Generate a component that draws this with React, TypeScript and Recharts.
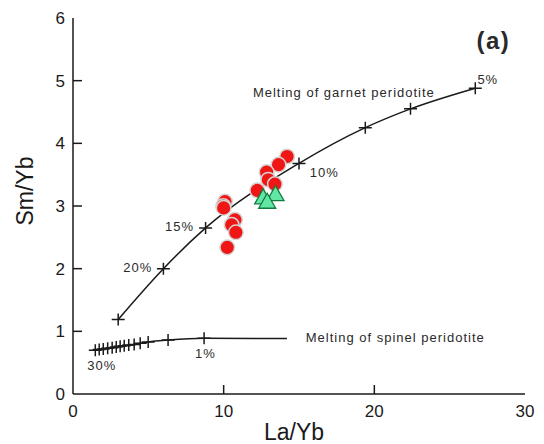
import { ComposedChart, Line, ReferenceDot, Scatter, XAxis, YAxis } from "recharts";

// melting curves (La/Yb vs Sm/Yb), one "+" per step of melting
const garnetX = [3, 6, 8.8, 15, 19.4, 22.4, 26.7];
const garnetY = [1.19, 2.0, 2.65, 3.68, 4.25, 4.55, 4.88];
const spinelX = [1.48, 1.74, 2.01, 2.3, 2.6, 2.87, 3.13, 3.4, 3.7, 4.06, 4.46, 4.99, 6.31, 8.7, 14.2];
const spinelY = [0.7, 0.71, 0.72, 0.73, 0.74, 0.75, 0.76, 0.77, 0.78, 0.79, 0.81, 0.83, 0.86, 0.89, 0.885];

// samples
const circleX = [14.21, 13.64, 12.85, 12.96, 13.4, 12.23, 10.09, 9.97, 10.0, 10.75, 10.53, 10.81, 10.24];
const circleY = [3.79, 3.66, 3.54, 3.42, 3.35, 3.25, 3.07, 3.0, 2.97, 2.78, 2.7, 2.58, 2.34];
const triangleX = [12.62, 13.44, 12.89];
const triangleY = [3.13, 3.18, 3.06];

const xTicks = [0, 10, 20, 30];
const yTicks = [0, 1, 2, 3, 4, 5, 6];

const zip = (xs: number[], ys: number[]) => xs.map((x, i) => ({ x, y: ys[i] }));
const garnet = zip(garnetX, garnetY);
const spinel = zip(spinelX, spinelY);
const circles = zip(circleX, circleY);
const triangles = zip(triangleX, triangleY);

const INK = "#1a1a1a";
const FONT = "'Liberation Sans', Arial, sans-serif";

const BottomTick = (p: any) => {
  const v = p.payload.value;
  return (
    <g>
      {v > 0 && v < 30 && <line x1={p.x} x2={p.x} y1={p.y} y2={p.y - 9} stroke={INK} strokeWidth={1.5} />}
      <text x={p.x} y={p.y + 23} textAnchor="middle" fontSize={17} fill={INK}>
        {v}
      </text>
    </g>
  );
};

const TopTick = (p: any) => <line x1={p.x} x2={p.x} y1={p.y} y2={p.y + 9} stroke={INK} strokeWidth={1.5} />;

const LeftTick = (p: any) => {
  const v = p.payload.value;
  return (
    <g>
      {v > 0 && v < 6 && <line x1={p.x} x2={p.x + 9} y1={p.y} y2={p.y} stroke={INK} strokeWidth={1.5} />}
      <text x={p.x - 8} y={p.y + 6} textAnchor="end" fontSize={17} fill={INK}>
        {v}
      </text>
    </g>
  );
};

const RightTick = (p: any) => <line x1={p.x} x2={p.x - 9} y1={p.y} y2={p.y} stroke={INK} strokeWidth={1.5} />;

const PlusDot = (p: any) => {
  if (p.index >= p.last) return <g key={p.index} />;
  return (
    <path
      key={p.index}
      d={`M${p.cx - 6.5},${p.cy}H${p.cx + 6.5}M${p.cx},${p.cy - 6}V${p.cy + 6}`}
      stroke={INK}
      strokeWidth={1.5}
      fill="none"
    />
  );
};

const RedCircle = (p: any) => <circle cx={p.cx} cy={p.cy} r={7.3} fill="#f01616" stroke="#d4d4d4" strokeWidth={1.5} />;

const GreenTriangle = (p: any) => (
  <path
    d={`M${p.cx},${p.cy - 9}L${p.cx + 8.5},${p.cy + 6}L${p.cx - 8.5},${p.cy + 6}Z`}
    fill="#62e6a4"
    stroke="#137a40"
    strokeWidth={1.3}
  />
);

const note =
  (text: string, size = 13, weight = 400, anchor = "start", spacing = 1) =>
  (p: any) => (
    <text
      x={p.cx}
      y={p.cy}
      fontSize={size}
      fontWeight={weight}
      textAnchor={anchor}
      letterSpacing={spacing}
      fill="#2a2a2a"
    >
      {text}
    </text>
  );

export default function App() {
  return (
    <div style={{ position: "absolute", left: 0, top: 0 }}>
      <ComposedChart
        width={544}
        height={444}
        margin={{ top: 18, right: 19, bottom: 20, left: 13 }}
        style={{ fontFamily: FONT }}
      >
        <XAxis
          dataKey="x"
          type="number"
          domain={[0, 30]}
          ticks={xTicks}
          allowDataOverflow
          height={30}
          tickSize={0}
          tickMargin={0}
          tickLine={false}
          tick={BottomTick}
          axisLine={{ stroke: INK, strokeWidth: 1.5 }}
          label={{
            content: (p: any) => (
              <text x={p.viewBox.x + p.viewBox.width / 2 - 5} y={p.viewBox.y + 46} textAnchor="middle" fontSize={23} fill={INK}>
                La/Yb
              </text>
            ),
          }}
        />
        <XAxis
          xAxisId="top"
          orientation="top"
          dataKey="x"
          type="number"
          domain={[0, 30]}
          ticks={[10, 20]}
          allowDataOverflow
          height={0}
          tickSize={0}
          tickMargin={0}
          tickLine={false}
          tick={TopTick}
          axisLine={{ stroke: INK, strokeWidth: 1.5 }}
        />
        <YAxis
          dataKey="y"
          type="number"
          domain={[0, 6]}
          ticks={yTicks}
          allowDataOverflow
          width={60}
          tickSize={0}
          tickMargin={0}
          tickLine={false}
          tick={LeftTick}
          axisLine={{ stroke: INK, strokeWidth: 1.5 }}
          label={{
            content: (p: any) => {
              const cx = p.viewBox.x + 20;
              const cy = 191;
              return (
                <text x={cx} y={cy} transform={`rotate(-90, ${cx}, ${cy})`} textAnchor="middle" fontSize={23} fill={INK}>
                  Sm/Yb
                </text>
              );
            },
          }}
        />
        <YAxis
          yAxisId="right"
          orientation="right"
          dataKey="y"
          type="number"
          domain={[0, 6]}
          ticks={[1, 2, 3, 4, 5]}
          allowDataOverflow
          width={0}
          tickSize={0}
          tickMargin={0}
          tickLine={false}
          tick={RightTick}
          axisLine={{ stroke: INK, strokeWidth: 1.5 }}
        />

        <Line
          data={garnet}
          dataKey="y"
          type="monotone"
          stroke={INK}
          strokeWidth={1.5}
          dot={(p: any) => <PlusDot key={p.index} {...p} last={garnet.length} />}
          activeDot={false}
          isAnimationActive={false}
        />
        <Line
          data={spinel}
          dataKey="y"
          type="monotone"
          stroke={INK}
          strokeWidth={1.5}
          dot={(p: any) => <PlusDot key={p.index} {...p} last={spinel.length - 1} />}
          activeDot={false}
          isAnimationActive={false}
        />
        <Scatter data={circles} dataKey="y" shape={RedCircle} isAnimationActive={false} />
        <Scatter data={triangles} dataKey="y" shape={GreenTriangle} isAnimationActive={false} />

        <ReferenceDot x={11.94} y={4.74} r={0} shape={note("Melting of garnet peridotite")} />
        <ReferenceDot x={26.84} y={4.95} r={0} shape={note("5%")} />
        <ReferenceDot x={15.72} y={3.47} r={0} shape={note("10%")} />
        <ReferenceDot x={6.11} y={2.6} r={0} shape={note("15%")} />
        <ReferenceDot x={3.33} y={1.94} r={0} shape={note("20%")} />
        <ReferenceDot x={0.95} y={0.39} r={0} shape={note("30%")} />
        <ReferenceDot x={8.1} y={0.57} r={0} shape={note("1%")} />
        <ReferenceDot x={15.45} y={0.835} r={0} shape={note("Melting of spinel peridotite")} />
        <ReferenceDot x={29.03} y={5.5} r={0} shape={note("(a)", 24, 700, "end", 1.5)} />
      </ComposedChart>
    </div>
  );
}
